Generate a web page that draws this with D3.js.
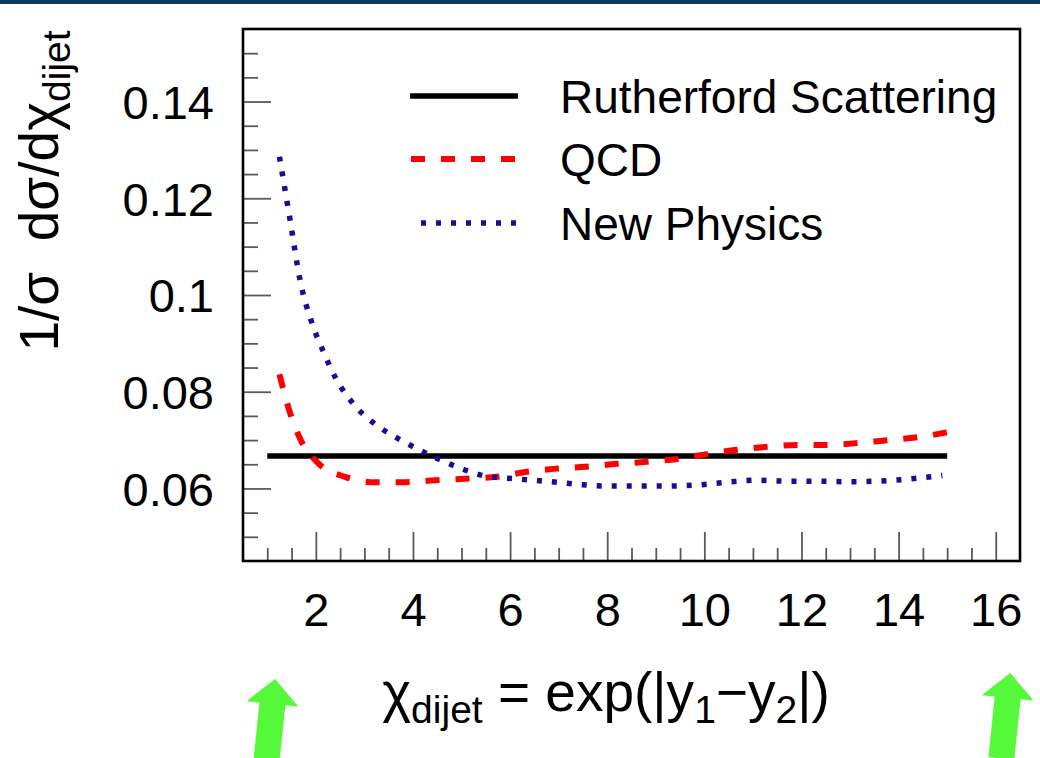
<!DOCTYPE html>
<html>
<head>
<meta charset="utf-8">
<script src="https://cdn.jsdelivr.net/npm/d3@7/dist/d3.min.js"></script>
<style>
  html, body { margin: 0; padding: 0; background: #fff; }
  svg { display: block; }
  text { font-family: "Liberation Sans", Arial, Helvetica, sans-serif; fill: #000; }
</style>
</head>
<body>
<svg id="chart" width="1040" height="758"></svg>
<script>
// ---------------- data ----------------
const rutherfordX = [1.0, 15.0];
const rutherfordY = [0.0667, 0.0667];

const qcdX = [1.25, 1.47, 1.69, 2.04, 2.6, 3.22, 3.84, 4.45, 5.07, 5.73, 6.31, 6.95, 7.56, 8.2, 8.82, 9.44, 10.06, 10.67, 11.29, 11.93, 12.49, 13.17, 13.78, 14.4, 15.0];
const qcdY = [0.0836, 0.0756, 0.0700, 0.0653, 0.0624, 0.0613, 0.0613, 0.0617, 0.0620, 0.0624, 0.0634, 0.0641, 0.0645, 0.0651, 0.0655, 0.0661, 0.0671, 0.0680, 0.0686, 0.0690, 0.0690, 0.0694, 0.0700, 0.0706, 0.0716];

const npX = [1.25, 1.47, 1.67, 1.92, 2.15, 2.42, 2.77, 3.22, 3.75, 4.31, 4.87, 5.48, 6.1, 6.72, 7.34, 7.95, 8.59, 9.21, 9.83, 10.47, 11.08, 11.7, 12.32, 12.96, 13.9, 14.9];
const npY = [0.1286, 0.1155, 0.1033, 0.0942, 0.0884, 0.0826, 0.0775, 0.0733, 0.0700, 0.0671, 0.0646, 0.0626, 0.0620, 0.0615, 0.0609, 0.0605, 0.0605, 0.0605, 0.0607, 0.0613, 0.0617, 0.0615, 0.0615, 0.0614, 0.0617, 0.0627];

const xTickValues = [2, 4, 6, 8, 10, 12, 14, 16];
const xTickLabels = ["2", "4", "6", "8", "10", "12", "14", "16"];
const yTickValues = [0.06, 0.08, 0.10, 0.12, 0.14];
const yTickLabels = ["0.06", "0.08", "0.1", "0.12", "0.14"];

const legendLabels = ["Rutherford Scattering", "QCD", "New Physics"];
const arrowTipsX = [1.16, 16.3];

// ---------------- layout ----------------
const svg = d3.select("#chart");
const W = 1040, H = 758;
const L = 243, R = 1020, T = 29, B = 561;

const x = d3.scaleLinear().domain([0.5, 16.5]).range([L, R]);
const y = d3.scaleLinear().domain([0.045, 0.155]).range([B, T]);

// top banner strip
svg.append("rect").attr("x", 0).attr("y", 0).attr("width", W).attr("height", 4).attr("fill", "#0f3a5e");

// clip for curves
svg.append("clipPath").attr("id", "clip").append("rect")
  .attr("x", L).attr("y", T).attr("width", R - L).attr("height", B - T);

// ---------------- axes ----------------
const tickColor = "#5a5a5a";
const labelFont = 47;
// x ticks (inside, upward)
const xMinor = d3.range(1.0, 16.01, 0.5).filter(v => Math.abs(v / 2 - Math.round(v / 2)) > 1e-6);
const xAxisMajor = d3.axisTop(x).tickValues(xTickValues).tickSize(29).tickFormat("");
const xAxisMinor = d3.axisTop(x).tickValues(xMinor).tickSize(13).tickFormat("");
[xAxisMinor, xAxisMajor].forEach(ax => {
  const g = svg.append("g").attr("transform", `translate(0,${B})`).call(ax);
  g.select(".domain").remove();
  g.selectAll("line").attr("stroke", tickColor).attr("stroke-width", 1.8).attr("y1", 0);
});
// x labels
const xLab = d3.axisBottom(x).tickValues(xTickValues).tickSize(0).tickFormat((d, i) => xTickLabels[i]);
const gxl = svg.append("g").attr("transform", `translate(0,${B})`).call(xLab);
gxl.select(".domain").remove();
gxl.selectAll("text").attr("font-size", labelFont).attr("font-family", "Liberation Sans, Arial, sans-serif")
   .attr("fill", "#000").attr("y", 65).attr("dy", 0);

// y ticks (inside, rightward)
const yMinor = d3.range(0.05, 0.1501, 0.005).filter(v => yTickValues.every(t => Math.abs(t - v) > 1e-6));
const yAxisMajor = d3.axisRight(y).tickValues(yTickValues).tickSize(28).tickFormat("");
const yAxisMinor = d3.axisRight(y).tickValues(yMinor).tickSize(15).tickFormat("");
[yAxisMinor, yAxisMajor].forEach(ax => {
  const g = svg.append("g").attr("transform", `translate(${L},0)`).call(ax);
  g.select(".domain").remove();
  g.selectAll("line").attr("stroke", tickColor).attr("stroke-width", 1.8);
});
const yLab = d3.axisLeft(y).tickValues(yTickValues).tickSize(0).tickFormat((d, i) => yTickLabels[i]);
const gyl = svg.append("g").attr("transform", `translate(${L},0)`).call(yLab);
gyl.select(".domain").remove();
gyl.selectAll("text").attr("font-size", labelFont).attr("font-family", "Liberation Sans, Arial, sans-serif")
   .attr("fill", "#000").attr("x", -29).attr("dy", "0.36em");

// frame
svg.append("rect").attr("x", L).attr("y", T).attr("width", R - L).attr("height", B - T)
  .attr("fill", "none").attr("stroke", "#000").attr("stroke-width", 2.6);

// ---------------- curves ----------------
const line = d3.line().x(d => x(d[0])).y(d => y(d[1])).curve(d3.curveMonotoneX);
const plot = svg.append("g").attr("clip-path", "url(#clip)");

const series = [
  { xs: rutherfordX, ys: rutherfordY, color: "#000", width: 5.5, dash: null },
  { xs: qcdX, ys: qcdY, color: "#ff0000", width: 6, dash: "14,16" },
  { xs: npX, ys: npY, color: "#1a0c96", width: 5.5, dash: "5,10" }
];
series.forEach(s => {
  plot.append("path")
    .datum(s.xs.map((v, i) => [v, s.ys[i]]))
    .attr("d", line)
    .attr("fill", "none")
    .attr("stroke", s.color)
    .attr("stroke-width", s.width)
    .attr("stroke-dasharray", s.dash)
    .attr("stroke-linecap", "butt");
});

// ---------------- legend ----------------
const legY = [96, 159, 223];
const leg = svg.append("g");
series.forEach((s, i) => {
  const lx0 = s.dash === "5,10" ? 421 : (s.dash ? 411 : 410);
  leg.append("line").attr("x1", lx0).attr("x2", 518).attr("y1", legY[i]).attr("y2", legY[i])
    .attr("stroke", s.color).attr("stroke-width", s.width).attr("stroke-dasharray", s.dash);
  leg.append("text").attr("x", 560).attr("y", legY[i]).attr("dy", "0.36em")
    .attr("font-size", 46).text(legendLabels[i]);
});

// ---------------- axis titles ----------------
const xt = svg.append("text").attr("x", 606).attr("y", 711).attr("text-anchor", "middle").attr("font-size", 55);
xt.append("tspan").text("χ");
xt.append("tspan").attr("font-size", 39).attr("dy", 12).text("dijet");
xt.append("tspan").attr("dy", -12).text("\u00a0= exp(|y");
xt.append("tspan").attr("font-size", 39).attr("dy", 12).text("1");
xt.append("tspan").attr("dy", -12).text("−y");
xt.append("tspan").attr("font-size", 39).attr("dy", 12).text("2");
xt.append("tspan").attr("dy", -12).text("|)");

const yt = svg.append("text").attr("transform", "translate(58,191) rotate(-90)")
  .attr("text-anchor", "middle").attr("font-size", 55);
yt.append("tspan").text("1/σ\u00a0 dσ/dχ");
yt.append("tspan").attr("font-size", 39).attr("dy", 12).text("dijet");

// ---------------- annotation arrows ----------------
const arrowShape = "M0,0 L26,25 L13,25 L13,86 L-13,86 L-13,25 L-26,25 Z";
const arrowTipY = [679, 673];
arrowTipsX.forEach((v, i) => {
  svg.append("path").attr("d", arrowShape)
    .attr("transform", `translate(${x(v)},${arrowTipY[i]}) rotate(6)`)
    .attr("fill", "#55f93a");
});
</script>
</body>
</html>
